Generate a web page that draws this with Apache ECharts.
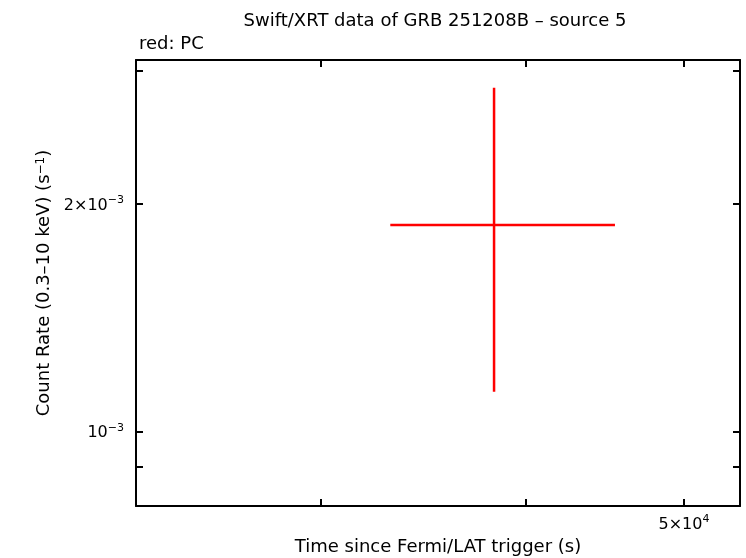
<!DOCTYPE html>
<html>
<head>
<meta charset="utf-8">
<script src="https://cdn.jsdelivr.net/npm/echarts@6/dist/echarts.min.js"></script>
<style>
html,body{margin:0;padding:0;background:#fff;}
#chart{width:746px;height:558px;}
</style>
</head>
<body>
<div id="chart"></div>
<script>
// Data: one PC-mode point with asymmetric errors
var timeVals = [3.827e4];
var timeLo = [3.307e4];
var timeHi = [4.537e4];
var rateVals = [1.876e-3];
var rateLo = [1.130e-3];
var rateHi = [2.848e-3];

// Axis ranges and ticks
var xRange = [2.312e4, 5.41e4];
var yRange = [7.98e-4, 3.10e-3];
var xTickVals = [3e4, 4e4, 5e4];
var xLabelVals = [5e4];
var yTickVals = [9e-4, 1e-3, 2e-3, 3e-3];
var yLabelVals = [1e-3, 2e-3];

var FONT = '"DejaVu Sans", "Liberation Sans", sans-serif';
var FS = 18;
var LFS = 16;

function sciLabel(v) {
  var e = Math.floor(Math.log10(v) + 1e-9);
  var m = Math.round(v / Math.pow(10, e));
  var sup = (e < 0 ? '\u2212' + (-e) : '' + e);
  return (m === 1 ? '{b|10}' : '{b|' + m + '\u00d710}') + '{s|' + sup + '}';
}

var richSci = {
  b: {fontSize: LFS, fontFamily: FONT, color: '#000', verticalAlign: 'bottom', lineHeight: 19},
  s: {fontSize: 11, fontFamily: FONT, color: '#000', verticalAlign: 'top', lineHeight: 19}
};

var data = timeVals.map(function (t, i) {
  return [t, rateVals[i], timeLo[i], timeHi[i], rateLo[i], rateHi[i]];
});

var frameAxis = {
  axisLine: {show: true, onZero: false, lineStyle: {color: '#000', width: 2}},
  splitLine: {show: false}
};
var tickStyle = {color: '#000', width: 2};

var chart = echarts.init(document.getElementById('chart'), null, {renderer: 'canvas'});
chart.setOption({
  animation: false,
  backgroundColor: '#fff',
  graphic: [{
    type: 'text', x: 435, y: 21,
    style: {text: 'Swift/XRT data of GRB 251208B \u2013 source 5', font: FS + 'px ' + FONT,
      fill: '#000', textAlign: 'center', textVerticalAlign: 'middle'}
  }, {
    type: 'text', x: 139, y: 44,
    style: {text: 'red: PC', font: FS + 'px ' + FONT, fill: '#000', textAlign: 'left', textVerticalAlign: 'middle'}
  }],
  grid: {left: 136, right: 6, top: 60, bottom: 52, containLabel: false, outerBoundsMode: 'none'},
  xAxis: [
    Object.assign({
      type: 'log', min: xRange[0], max: xRange[1], position: 'bottom',
      name: 'Time since Fermi/LAT trigger (s)', nameLocation: 'middle', nameGap: 30,
      nameTextStyle: {fontSize: FS, fontFamily: FONT, color: '#000'},
      axisTick: {show: true, inside: true, length: 7, lineStyle: tickStyle, customValues: xTickVals},
      axisLabel: {show: true, margin: 8, customValues: xLabelVals, formatter: sciLabel, rich: richSci},
      minorTick: {show: false}
    }, frameAxis),
    Object.assign({
      type: 'log', min: xRange[0], max: xRange[1], position: 'top',
      axisTick: {show: true, inside: true, length: 7, lineStyle: tickStyle, customValues: xTickVals},
      axisLabel: {show: false}
    }, frameAxis)
  ],
  yAxis: [
    Object.assign({
      type: 'log', min: yRange[0], max: yRange[1], position: 'left',
      name: 'Count Rate (0.3\u201310 keV) (s{s|\u22121})', nameLocation: 'middle', nameGap: 80, nameRotate: 90,
      nameTextStyle: {fontSize: FS, fontFamily: FONT, color: '#000',
        rich: {s: {fontSize: 12, fontFamily: FONT, color: '#000', verticalAlign: 'top'}}},
      axisTick: {show: true, inside: true, length: 7, lineStyle: tickStyle, customValues: yTickVals},
      axisLabel: {show: true, margin: 12, customValues: yLabelVals, formatter: sciLabel, rich: richSci},
      minorTick: {show: false}
    }, frameAxis),
    Object.assign({
      type: 'log', min: yRange[0], max: yRange[1], position: 'right',
      axisTick: {show: true, inside: true, length: 7, lineStyle: tickStyle, customValues: yTickVals},
      axisLabel: {show: false}
    }, frameAxis)
  ],
  series: [{
    type: 'custom',
    xAxisIndex: 0, yAxisIndex: 0,
    data: data,
    encode: {x: [0, 2, 3], y: [1, 4, 5]},
    renderItem: function (params, api) {
      var x = api.value(0), y = api.value(1);
      var pl = api.coord([api.value(2), y]);
      var pr = api.coord([api.value(3), y]);
      var pb = api.coord([x, api.value(4)]);
      var pt = api.coord([x, api.value(5)]);
      var st = {stroke: '#ff0000', lineWidth: 2.5};
      return {
        type: 'group',
        children: [
          {type: 'line', shape: {x1: pl[0], y1: pl[1], x2: pr[0], y2: pr[1]}, style: st},
          {type: 'line', shape: {x1: pb[0], y1: pb[1], x2: pt[0], y2: pt[1]}, style: st}
        ]
      };
    }
  }]
});
</script>
</body>
</html>
